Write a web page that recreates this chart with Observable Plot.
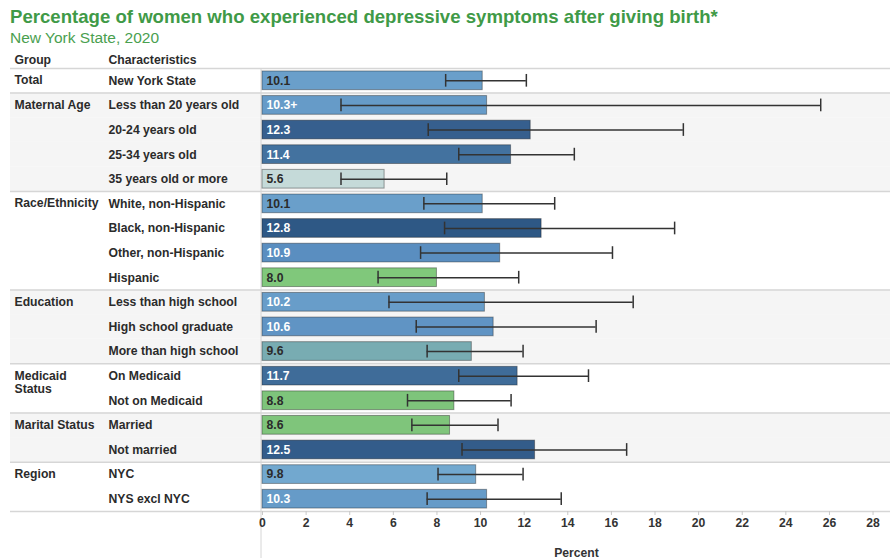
<!DOCTYPE html>
<html>
<head>
<meta charset="utf-8">
<script src="https://cdn.jsdelivr.net/npm/d3@7"></script>
<script src="https://cdn.jsdelivr.net/npm/@observablehq/plot@0.6"></script>
<style>
  html, body { margin: 0; padding: 0; background: #fff; }
  body { width: 890px; height: 558px; position: relative; overflow: hidden; font-family: "Liberation Sans", Arial, Helvetica, sans-serif; }
  #title { position: absolute; left: 10px; top: 6px; font-size: 18.6px; font-weight: bold; color: #3f9a47; white-space: nowrap; }
  #subtitle { position: absolute; left: 10px; top: 29px; font-size: 15.5px; color: #4aa04f; white-space: nowrap; }
  #chart { position: absolute; left: 0; top: 48px; }
</style>
</head>
<body>
<div id="title">Percentage of women who experienced depressive symptoms after giving birth*</div>
<div id="subtitle">New York State, 2020</div>
<div id="chart"></div>
<script>
// ---- data ----
const groupNames = ["Total", "Maternal Age", "Race/Ethnicity", "Education", "Medicaid\nStatus", "Marital Status", "Region"];
const groupIndex = [0, 1, 1, 1, 1, 2, 2, 2, 2, 3, 3, 3, 4, 4, 5, 5, 6, 6];
const characteristics = [
  "New York State",
  "Less than 20 years old", "20-24 years old", "25-34 years old", "35 years old or more",
  "White, non-Hispanic", "Black, non-Hispanic", "Other, non-Hispanic", "Hispanic",
  "Less than high school", "High school graduate", "More than high school",
  "On Medicaid", "Not on Medicaid",
  "Married", "Not married",
  "NYC", "NYS excl NYC"
];
const values = [10.1, 10.3, 12.3, 11.4, 5.6, 10.1, 12.8, 10.9, 8.0, 10.2, 10.6, 9.6, 11.7, 8.8, 8.6, 12.5, 9.8, 10.3];
const valueLabels = ["10.1", "10.3+", "12.3", "11.4", "5.6", "10.1", "12.8", "10.9", "8.0", "10.2", "10.6", "9.6", "11.7", "8.8", "8.6", "12.5", "9.8", "10.3"];
const ciLow  = [8.4, 3.6, 7.6, 9.0, 3.6, 7.4, 8.35, 7.25, 5.3, 5.8, 7.05, 7.55, 9.0, 6.65, 6.85, 9.15, 8.05, 7.55];
const ciHigh = [12.1, 25.6, 19.3, 14.3, 8.45, 13.4, 18.9, 16.05, 11.75, 17.0, 15.3, 11.95, 14.95, 11.4, 10.8, 16.7, 11.95, 13.7];
const xTicks = [0, 2, 4, 6, 8, 10, 12, 14, 16, 18, 20, 22, 24, 26, 28];
const xDomain = [0, 28.8];

// ---- table ----
const n = characteristics.length;
const rows = characteristics.map((c, i) => ({
  label: c,
  gi: groupIndex[i],
  group: groupNames[groupIndex[i]],
  value: values[i],
  text: valueLabels[i],
  lo: ciLow[i],
  hi: ciHigh[i],
  first: i === 0 || groupIndex[i] !== groupIndex[i - 1],
  last: i === n - 1
}));

// ---- layout ----
const W = 890, H = 510, mL = 262, mR = 0, mT = 20, mB = 47;
const step = (H - mT - mB) / n;
const pIn = 0.24, pOut = 0.12;
const gapHalf = step * pIn / 2;
const leftExt = mL - 10;
const dark = "#2b2b2b";

const chart = Plot.plot({
  width: W, height: H,
  marginLeft: mL, marginRight: mR, marginTop: mT, marginBottom: mB,
  style: { fontFamily: "'Liberation Sans', Arial, Helvetica, sans-serif", fontSize: "12.2px", fontWeight: "bold", color: "#333", background: "white" },
  x: { domain: xDomain },
  y: { domain: characteristics, paddingInner: pIn, paddingOuter: pOut, round: false, axis: null },
  color: {
    type: "linear",
    domain: [5.6, 8.0, 8.8, 9.6, 9.8, 10.1, 10.9, 11.4, 12.3, 12.8],
    range: ["#c5dad9", "#80c87b", "#7ec47b", "#78acb2", "#72a8cf", "#6a9fca", "#5a8ec0", "#43729f", "#365f8e", "#2e5885"],
    interpolate: "rgb"
  },
  marks: [
    // shaded group backgrounds
    Plot.barX(rows.filter(r => r.gi % 2 === 1), {
      x1: () => xDomain[0], x2: () => xDomain[1], y: "label",
      fill: "#f5f5f5", insetLeft: -leftExt, insetTop: -gapHalf, insetBottom: -gapHalf
    }),
    // group separators
    Plot.ruleY(rows.filter(r => r.first), { y: "label", dy: -step / 2, insetLeft: -leftExt, stroke: "#d6d6d6", strokeWidth: 1.5 }),
    Plot.ruleY(rows.filter(r => r.last), { y: "label", dy: step / 2, insetLeft: -leftExt, stroke: "#d6d6d6", strokeWidth: 1.5 }),
    // vertical divider
    Plot.ruleX([xDomain[0]], { dx: -1.5, insetBottom: -mB, stroke: "#d6d6d6" }),
    // bars
    Plot.barX(rows, { x: "value", y: "label", fill: "value", stroke: "#1a1a1a", strokeOpacity: 0.4, strokeWidth: 1 }),
    // error bars
    Plot.ruleY(rows, { y: "label", x1: "lo", x2: "hi", stroke: "#333", strokeWidth: 1.5 }),
    Plot.tickX(rows, { x: "lo", y: "label", stroke: "#333", strokeWidth: 1.5, insetTop: 3, insetBottom: 3 }),
    Plot.tickX(rows, { x: "hi", y: "label", stroke: "#333", strokeWidth: 1.5, insetTop: 3, insetBottom: 3 }),
    // value labels inside bars
    Plot.text(rows.filter(r => r.value >= 10.2), { y: "label", text: "text", frameAnchor: "left", textAnchor: "start", dx: 4, fill: "white" }),
    Plot.text(rows.filter(r => r.value < 10.2), { y: "label", text: "text", frameAnchor: "left", textAnchor: "start", dx: 4, fill: dark }),
    // characteristic labels
    Plot.text(rows, { y: "label", text: "label", frameAnchor: "left", textAnchor: "start", dx: 108 - mL, fill: dark }),
    // group labels
    Plot.text(rows.filter(r => r.first), { y: "label", text: "group", frameAnchor: "left", textAnchor: "start", dx: 14 - mL, lineAnchor: "top", dy: -6.2, lineHeight: 1.12, fill: dark }),
    // column headers
    Plot.text(["Group"], { text: d => d, frameAnchor: "top-left", textAnchor: "start", lineAnchor: "middle", dx: 14 - mL, dy: -8, fill: dark }),
    Plot.text(["Characteristics"], { text: d => d, frameAnchor: "top-left", textAnchor: "start", lineAnchor: "middle", dx: 108 - mL, dy: -8, fill: dark }),
    // x axis
    Plot.axisX({ ticks: xTicks, tickSize: 4, tickPadding: 3, stroke: "#c8c8c8", fill: "#333", label: "Percent", labelAnchor: "center", labelArrow: "none", labelOffset: 45 })
  ]
});
document.getElementById("chart").appendChild(chart);
</script>
</body>
</html>
